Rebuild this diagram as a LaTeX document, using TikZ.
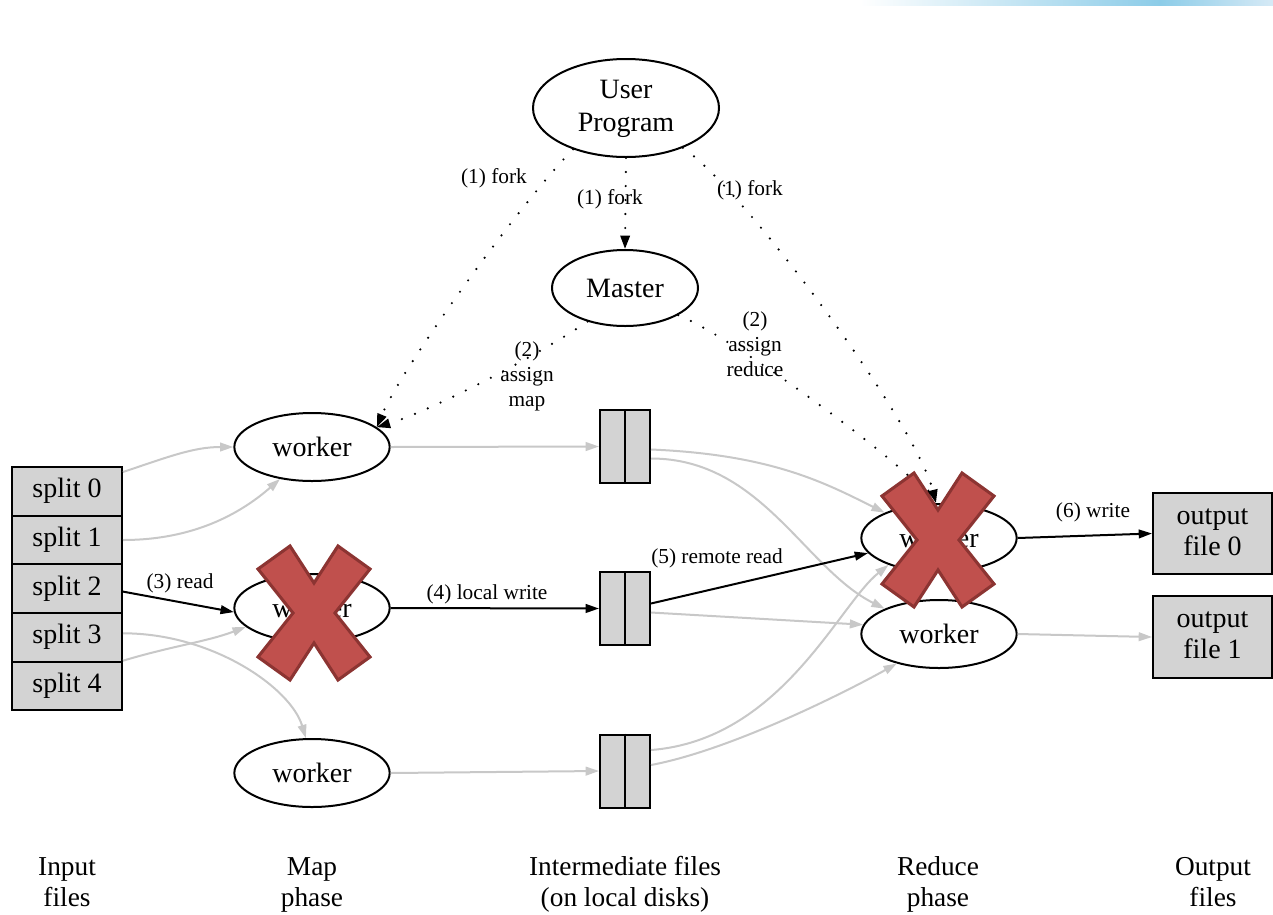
\documentclass[tikz,border=0pt]{standalone}
\usepackage{fontspec}
\setmainfont{Liberation Serif}
\usetikzlibrary{shapes.geometric,arrows.meta,calc}
\definecolor{boxgray}{RGB}{211,211,211}
\definecolor{edgegray}{RGB}{200,200,200}
\definecolor{xfill}{RGB}{192,80,77}
\definecolor{xline}{RGB}{140,52,50}
\definecolor{bannerA}{RGB}{214,234,246}
\definecolor{bannerB}{RGB}{140,204,232}
\newcommand\mainfs{\fontsize{21}{24.75}\selectfont}
\newcommand\labfs{\fontsize{16}{18.75}\selectfont}
\newcommand\botfs{\fontsize{20.5}{23.25}\selectfont}
\begin{document}
\begin{tikzpicture}[x=0.75pt,y=-0.75pt,
  wk/.style={ellipse,draw,line width=1.5pt,inner sep=0pt,minimum width=116.5pt,minimum height=51pt,font=\mainfs},
  splitbox/.style={rectangle,draw,fill=boxgray,line width=1.5pt,inner sep=0pt,minimum width=82.5pt,minimum height=36.45pt,font=\mainfs},
  ifile/.style={rectangle,draw,fill=boxgray,line width=1.5pt,inner sep=0pt,minimum width=37.5pt,minimum height=54.75pt},
  ofile/.style={rectangle,draw,fill=boxgray,line width=1.5pt,inner sep=0pt,minimum width=89.25pt,minimum height=61pt,align=center,font=\fontsize{21}{23.25}\selectfont},
  elab/.style={font=\labfs,align=center,inner sep=0pt},
  blab/.style={font=\botfs,align=center,inner sep=0pt},
  gedge/.style={draw=edgegray,line width=1.5pt,-{Triangle[length=10pt,width=6.5pt]}},
  bedge/.style={draw=black,line width=1.5pt,-{Triangle[length=10pt,width=6.5pt]}},
  dotl/.style={draw=black,line width=1.8pt,dash pattern=on 0pt off 10.5pt,line cap=round,-{Triangle[length=10pt,width=7pt]}},
  xcross/.pic={
    \draw[fill=xfill,draw=xline,line width=2.3pt,line join=miter]
      (-56,-44) -- (-24,-67) -- (0,-30) -- (24,-67) -- (56,-44) -- (21,0)
      -- (56,44) -- (24,67) -- (0,30) -- (-24,67) -- (-56,44) -- (-21,0) -- cycle;
  }
]
\useasboundingbox (0,0) rectangle (1273,914);
\fill[white] (0,0) rectangle (1273,914);
\shade[left color=white,middle color=bannerA,right color=bannerB] (860,0) rectangle (1160,5);
\shade[left color=bannerB,right color=bannerA] (1160,0) rectangle (1273,5);

% nodes
\node[ellipse,draw,line width=1.5pt,inner sep=0pt,minimum width=139.5pt,minimum height=73.5pt,align=center,font=\mainfs] (user) at (626,108) {User\strut\\Program\strut};
\node[ellipse,draw,line width=1.5pt,inner sep=0pt,minimum width=109.5pt,minimum height=57pt,font=\mainfs] (master) at (625,288) {Master};
\node[wk] (mw1) at (312,447) {worker};
\node[wk] (mw2) at (312,608) {worker};
\node[wk] (mw3) at (312,773) {worker};
\node[wk] (rw1) at (939,538) {worker};
\node[wk] (rw2) at (939,634) {worker};

\node[splitbox] (s0) at (67,491.3) {split 0\strut};
\node[splitbox] (s1) at (67,540) {split 1\strut};
\node[splitbox] (s2) at (67,588.6) {split 2\strut};
\node[splitbox] (s3) at (67,637.3) {split 3\strut};
\node[splitbox] (s4) at (67,686) {split 4\strut};

\node[ifile] (f1) at (625,446.5) {};
\node[ifile] (f2) at (625,608.5) {};
\node[ifile] (f3) at (625,771) {};
\draw[line width=1.5pt] (f1.north) -- (f1.south);
\draw[line width=1.5pt] (f2.north) -- (f2.south);
\draw[line width=1.5pt] (f3.north) -- (f3.south);

\node[ofile] (o0) at (1212.5,533.5) {output\strut\\file 0\strut};
\node[ofile] (o1) at (1212.5,637) {output\strut\\file 1\strut};

% bottom labels
\node[blab] (lin) at (67,885) {Input\strut\\files\strut};
\node[blab] (lmap) at (312,885) {Map\strut\\phase\strut};
\node[blab] (lint) at (625,885) {Intermediate files\strut\\(on local disks)\strut};
\node[blab] (lred) at (938,885) {Reduce\strut\\phase\strut};
\node[blab] (lout) at (1213,885) {Output\strut\\files\strut};

% gray edges
\draw[gedge] ($(s0.north east)+(0,6)$) .. controls +(45,-15) and +(-40,0) .. (mw1.west);
\draw[gedge] (s1.east) .. controls +(70,0) and +(-40,35) .. (mw1.225);
\draw[gedge] ($(s3.east)+(0,-4)$) .. controls +(90,0) and +(-15,-50) .. (mw3.100);
\draw[gedge] (s4.north east) .. controls +(50,-15) and +(-40,15) .. (mw2.196);
\draw[gedge] (mw1.east) -- (f1.west);
\draw[gedge] (mw3.east) -- (f3.west);
\draw[gedge] ($(f1.east)+(0,3)$) .. controls +(120,5) and +(-60,-30) .. (rw1.155);
\draw[gedge] ($(f1.east)+(0,12)$) .. controls +(110,0) and +(-80,-40) .. (rw2.155);
\draw[gedge] ($(f2.east)+(0,4)$) -- (rw2.173);
\draw[gedge] ($(f3.east)+(0,-21)$) .. controls +(130,-10) and +(-50,40) .. (rw1.208);
\draw[gedge] ($(f3.east)+(0,-6)$) .. controls +(80,-15) and +(-50,28) .. (rw2.215);
\draw[gedge] (rw2.east) -- (o1.west);

% black edges
\draw[bedge] ($(s2.east)+(0,3)$) -- (mw2.183);
\draw[bedge] (mw2.east) -- (f2.west);
\draw[bedge] ($(f2.east)+(0,-5)$) -- (rw1.192);
\draw[bedge] (rw1.east) -- (o0.west);

% dotted edges
\draw[dotl] (user.218) .. controls +(-50,50) and +(25,-60) .. (mw1.17);
\draw[dotl] (user.south) -- (master.north);
\draw[dotl] (user.325) .. controls +(60,40) and +(-20,-80) .. (rw1.95);
\draw[dotl] (master.222) .. controls +(-60,40) and +(50,-15) .. (mw1.17);
\draw[dotl] (master.333) .. controls +(60,25) and +(-30,-40) .. (rw1.100);

% edge labels
\node[elab] (lf1) at (494,178) {(1) fork\strut};
\node[elab] (lf2) at (610,199) {(1) fork\strut};
\node[elab] (lf3) at (750,190) {(1) fork\strut};
\node[elab] (lam) at (527,376) {(2)\strut\\assign\strut\\map\strut};
\node[elab] (lar) at (755,346) {(2)\strut\\assign\strut\\reduce\strut};
\node[elab] (lrd) at (180,583) {(3) read\strut};
\node[elab] (llw) at (487,594) {(4) local write\strut};
\node[elab] (lrr) at (717,558) {(5) remote read\strut};
\node[elab] (lwr) at (1093,512) {(6) write\strut};

% failure marks
\pic at (314,613) {xcross};
\pic at (938,540) {xcross};
\end{tikzpicture}
\end{document}
